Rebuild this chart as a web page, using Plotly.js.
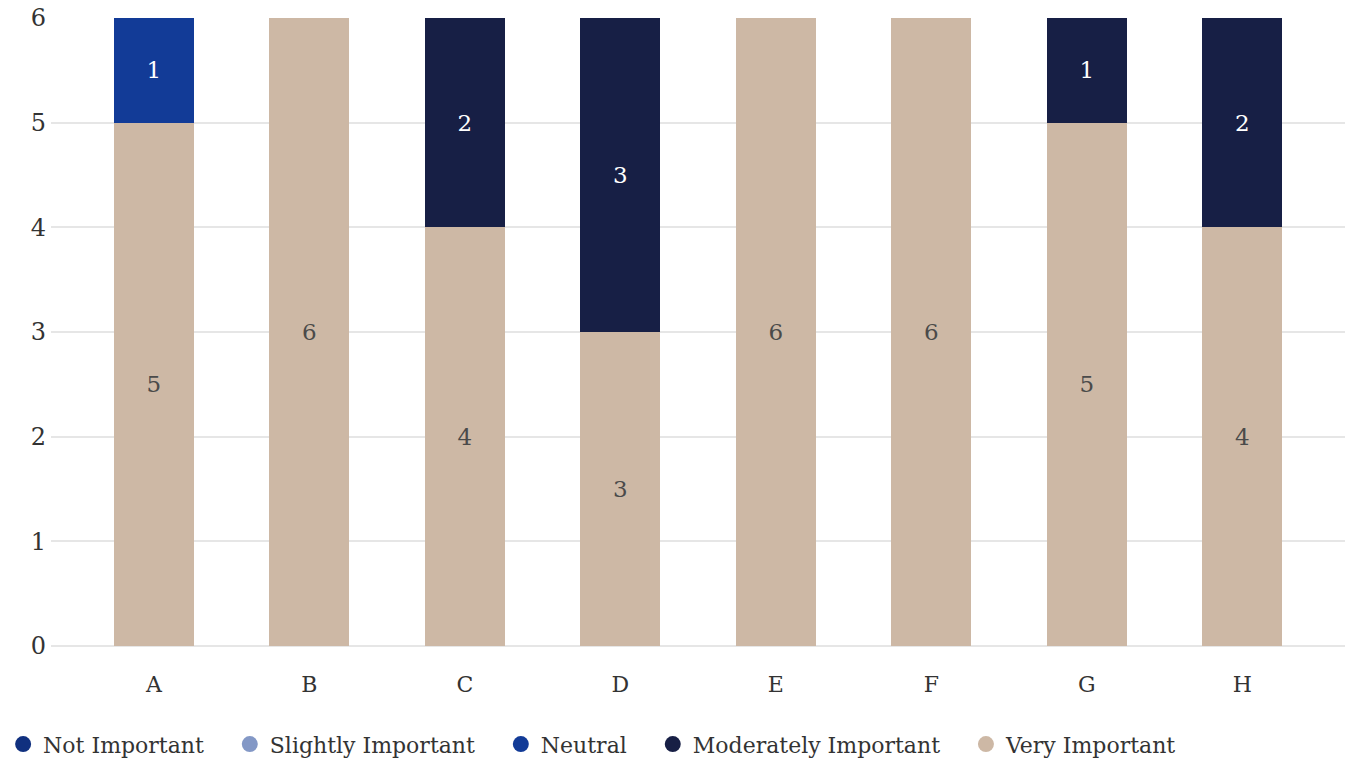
<!DOCTYPE html>
<html>
<head>
<meta charset="utf-8">
<script src="https://cdn.plot.ly/plotly-3.0.1.min.js"></script>
<style>html,body{margin:0;padding:0;background:#fff;}#chart{width:1351px;height:764px;}</style>
</head>
<body>
<div id="chart"></div>
<script>
const categories = ["A","B","C","D","E","F","G","H"];
const seriesNames = ["Not Important","Slightly Important","Neutral","Moderately Important","Very Important"];
const notImportant = [0,0,0,0,0,0,0,0];
const slightlyImportant = [0,0,0,0,0,0,0,0];
const neutral = [1,0,0,0,0,0,0,0];
const moderatelyImportant = [0,0,2,3,0,0,1,2];
const veryImportant = [5,6,4,3,6,6,5,4];
const yTicks = [0,1,2,3,4,5,6];

const colors = ["#10307f","#8398c6","#123b97","#171f45","#cdb8a5"];
const textColors = ["#ffffff","#ffffff","#ffffff","#ffffff","#4a4a4a"];
const FONT = "DejaVu Serif";
const values = [notImportant, slightlyImportant, neutral, moderatelyImportant, veryImportant];
const PAD = "\u00a0\u00a0\u00a0";

const traces = [];
// bars stacked: Very Important at bottom
for (let i = 4; i >= 0; i--) {
  traces.push({
    type: "bar",
    name: seriesNames[i],
    x: categories,
    y: values[i],
    marker: {color: colors[i]},
    text: values[i].map(v => v > 0 ? String(v) : ""),
    textposition: "inside",
    insidetextanchor: "middle",
    textangle: 0,
    textfont: {family: FONT, size: 23, color: textColors[i]},
    showlegend: false,
    hoverinfo: "skip"
  });
}
// legend entries with circle markers
for (let i = 0; i < 5; i++) {
  traces.push({
    type: "scatter",
    mode: "markers",
    name: seriesNames[i] + (i < 4 ? PAD : ""),
    x: [null],
    y: [null],
    marker: {color: colors[i], size: 16, symbol: "circle"},
    showlegend: true,
    hoverinfo: "skip"
  });
}

const layout = {
  width: 1351,
  height: 764,
  margin: {l: 51, r: 6, t: 18, b: 118, autoexpand: false},
  barmode: "stack",
  bargap: 0.486,
  paper_bgcolor: "#ffffff",
  plot_bgcolor: "#ffffff",
  font: {family: FONT, size: 22, color: "#333333"},
  xaxis: {
    type: "category",
    range: [-0.662, 7.66],
    showgrid: false,
    zeroline: false,
    showline: false,
    ticks: "",
    ticklabelstandoff: 23,
    tickfont: {family: FONT, size: 22, color: "#333333"}
  },
  yaxis: {
    range: [0, 6],
    tickvals: yTicks,
    ticktext: yTicks.map(String),
    showgrid: true,
    gridcolor: "#e6e6e6",
    gridwidth: 2,
    zeroline: true,
    zerolinecolor: "#e6e6e6",
    zerolinewidth: 2,
    showline: false,
    ticks: "",
    ticklabelstandoff: 4,
    tickfont: {family: FONT, size: 24, color: "#333333"}
  },
  legend: {
    orientation: "h",
    x: -0.037,
    xanchor: "left",
    y: -0.123,
    yanchor: "top",
    font: {family: FONT, size: 22, color: "#333333"},
    itemsizing: "trace",
    traceorder: "normal"
  },
  showlegend: true
};

Plotly.newPlot("chart", traces, layout, {displayModeBar: false, staticPlot: true});
</script>
</body>
</html>
